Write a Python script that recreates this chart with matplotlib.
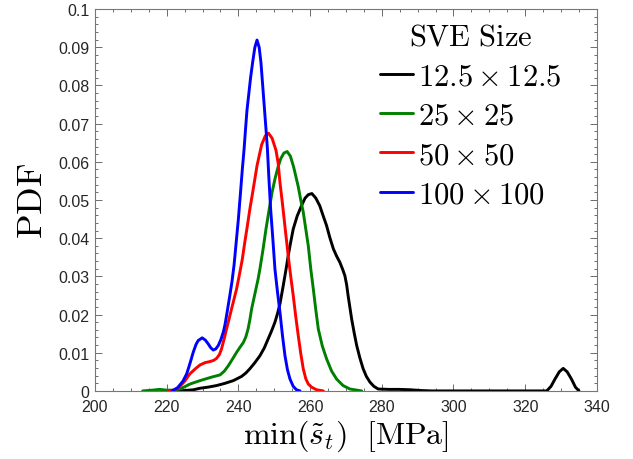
import matplotlib
matplotlib.use("Agg")
import matplotlib.pyplot as plt
from matplotlib.ticker import MultipleLocator

plt.rcParams['mathtext.fontset'] = 'cm'
plt.rcParams['font.family'] = ['Liberation Sans', 'DejaVu Sans']

labels = [r'$12.5 \times 12.5$', r'$25 \times 25$', r'$50 \times 50$', r'$100 \times 100$']
colors = ['black', '#008000', 'red', 'blue']

x_black = [222, 225, 227.5, 229.3, 231.6, 233.9, 236.3, 238.6, 240.9, 242.1, 243.2, 244.6, 246.0, 247.2,
           248.3, 249.3, 250.2, 250.9, 251.6, 252.5, 253.3, 253.9, 254.6, 255.3, 256.4, 257.6, 258.6,
           259.5, 260.5, 261.6, 262.7, 263.6, 264.6, 265.5, 266.5, 267.4, 268.3, 269.1, 269.7, 270.2,
           270.6, 271.1, 271.6, 272.3, 273.0, 273.9, 274.8, 275.7, 276.7, 277.8, 279.0, 282, 285, 288,
           291, 294, 300, 310, 320, 326, 327.2, 328.3, 329.5, 330.6, 331.7, 332.9, 334, 335]
y_black = [0, 0.0001, 0.0003, 0.0007, 0.0010, 0.0014, 0.0020, 0.0027, 0.0038, 0.0047, 0.0058, 0.0074,
           0.0092, 0.0112, 0.0136, 0.0158, 0.0180, 0.0202, 0.0228, 0.0275, 0.0319, 0.0354, 0.0390,
           0.0424, 0.0458, 0.0485, 0.0505, 0.0514, 0.0517, 0.0505, 0.0485, 0.0460, 0.0433, 0.0402,
           0.0372, 0.0353, 0.0337, 0.0318, 0.0302, 0.0278, 0.0250, 0.0219, 0.0188, 0.0152, 0.0119,
           0.0086, 0.0058, 0.0038, 0.0023, 0.0012, 0.0005, 0.0004, 0.0004, 0.0003, 0.0001, 0, 0, 0, 0,
           0, 0.0012, 0.0031, 0.0050, 0.0059, 0.0050, 0.0031, 0.0010, 0]

x_green = [213.3, 216, 218, 220, 222, 224, 226.5, 229.3, 232.5, 234.9, 236.1, 237.2, 238.4, 239.5, 240.5,
           241.4, 242.1, 242.7, 243.2, 243.7, 244.3, 244.9, 245.5, 246.0, 246.9, 247.7, 248.6, 249.4,
           250.2, 251.0, 251.8, 252.7, 253.6, 254.5, 255.4, 256.2, 256.7, 257.4, 258.1, 258.8, 259.5,
           260.2, 260.9, 261.6, 262.3, 263.4, 264.6, 266.0, 267.4, 269.2, 271.1, 274.4]
y_green = [0, 0.0002, 0.0004, 0.0002, 0.0002, 0.0006, 0.0018, 0.0027, 0.0036, 0.0042, 0.0052, 0.0066,
           0.0084, 0.0101, 0.0115, 0.0127, 0.0142, 0.0162, 0.0186, 0.0215, 0.0241, 0.0267, 0.0293,
           0.0319, 0.0372, 0.0424, 0.0476, 0.0520, 0.0555, 0.0584, 0.0608, 0.0623, 0.0627, 0.0615,
           0.0587, 0.0555, 0.0535, 0.0500, 0.0468, 0.0424, 0.0380, 0.0319, 0.0267, 0.0212, 0.0162,
           0.0118, 0.0084, 0.0052, 0.0031, 0.0014, 0.0005, 0]

x_red = [220.5, 222, 223.5, 225, 226.5, 228, 229.3, 230.7, 232.1, 233.1, 233.9, 234.7, 235.3, 236.0, 236.7,
         237.4, 238.1, 238.8, 239.5, 240.3, 241.1, 241.8, 242.5, 243.2, 243.9, 244.6, 245.2, 245.9,
         246.5, 247.5, 248.4, 249.4, 250.5, 251.1, 251.6, 252.3, 253.0, 253.9, 254.6, 255.3, 256.0,
         256.7, 257.4, 258.1, 258.8, 259.5, 260.4, 261.8, 263.7]
y_red = [0, 0.0002, 0.0010, 0.0025, 0.0045, 0.0058, 0.0068, 0.0074, 0.0077, 0.0080, 0.0085, 0.0095,
         0.0110, 0.0135, 0.0162, 0.0188, 0.0215, 0.0241, 0.0267, 0.0305, 0.0345, 0.0390, 0.0432,
         0.0476, 0.0515, 0.0555, 0.0590, 0.0620, 0.0645, 0.0668, 0.0675, 0.0662, 0.0630, 0.0596,
         0.0546, 0.0490, 0.0430, 0.0354, 0.0300, 0.0250, 0.0195, 0.0145, 0.0098, 0.0058, 0.0032,
         0.0018, 0.0010, 0.0003, 0]

x_blue = [221.5, 223, 224.5, 225.6, 226.5, 227.4, 228.2, 228.8, 229.9, 230.8, 231.6, 232.3, 233.0, 233.7,
          234.4, 235.1, 235.8, 236.3, 236.7, 237.6, 238.2, 238.8, 239.4, 240.0, 240.6, 241.1, 241.6,
          242.0, 242.4, 242.85, 243.4, 243.97, 244.6, 245.2, 245.8, 246.3, 247.0, 247.7, 248.1, 248.5,
          249.0, 249.6, 250.2, 250.9, 251.6, 252.3, 253.0, 253.7, 254.4, 255.3, 256.2, 257.2]
y_blue = [0, 0.0008, 0.0025, 0.0045, 0.0072, 0.0101, 0.0122, 0.0132, 0.0139, 0.0133, 0.0123, 0.0113,
          0.0107, 0.0110, 0.0119, 0.0134, 0.0154, 0.0175, 0.0197, 0.0249, 0.0285, 0.0330, 0.0390,
          0.0450, 0.0520, 0.0580, 0.0634, 0.0686, 0.0735, 0.0773, 0.0820, 0.0860, 0.0900, 0.0919,
          0.0900, 0.0860, 0.0773, 0.0686, 0.0634, 0.0560, 0.0476, 0.0400, 0.0319, 0.0260, 0.0206,
          0.0145, 0.0092, 0.0055, 0.0031, 0.0012, 0.0003, 0]

x_ticks = [200, 220, 240, 260, 280, 300, 320, 340]
y_ticks = [0, 0.01, 0.02, 0.03, 0.04, 0.05, 0.06, 0.07, 0.08, 0.09, 0.1]
y_ticklabels = ['0', '0.01', '0.02', '0.03', '0.04', '0.05', '0.06', '0.07', '0.08', '0.09', '0.1']

fig = plt.figure(figsize=(6.33, 4.6), dpi=100)
ax = fig.add_axes([0.150, 0.148, 0.793, 0.830])

series = [(x_black, y_black), (x_green, y_green), (x_red, y_red), (x_blue, y_blue)]
for (xs, ys), c, lab in zip(series, colors, labels):
    ax.plot(xs, ys, color=c, lw=2.1, label=lab, solid_joinstyle='round', solid_capstyle='round')

ax.set_xlim(200, 340)
ax.set_ylim(0, 0.1)
ax.set_xticks(x_ticks)
ax.set_yticks(y_ticks)
ax.set_yticklabels(y_ticklabels)
ax.xaxis.set_minor_locator(MultipleLocator(5))
ax.yaxis.set_minor_locator(MultipleLocator(0.002))
ax.tick_params(which='both', direction='in', top=True, right=True, colors='#555555',
               labelcolor='#262626', labelsize=11.5)
ax.tick_params(which='major', length=5, width=0.6)
ax.tick_params(which='minor', length=2.5, width=0.6)
ax.tick_params(axis='x', which='major', pad=6)
ax.tick_params(axis='y', which='major', pad=4)
for s in ax.spines.values():
    s.set_color('#777777')
    s.set_linewidth(0.8)

ax.set_xlabel(r'$\min(\tilde{s}_t)\ \ [\mathrm{MPa}]$', fontsize=23, labelpad=2)
ax.set_ylabel(r'$\mathrm{PDF}$', fontsize=26, labelpad=6)

leg = ax.legend(loc='upper left', bbox_to_anchor=(0.553, 0.987), frameon=False,
                title=r'$\mathrm{SVE\ Size}$', fontsize=22, title_fontsize=22,
                handlelength=1.08, handletextpad=0.16, labelspacing=0.31, borderpad=0.25,
                borderaxespad=0)
leg._legend_box.align = 'center'

fig.savefig('out.png', dpi=100)
